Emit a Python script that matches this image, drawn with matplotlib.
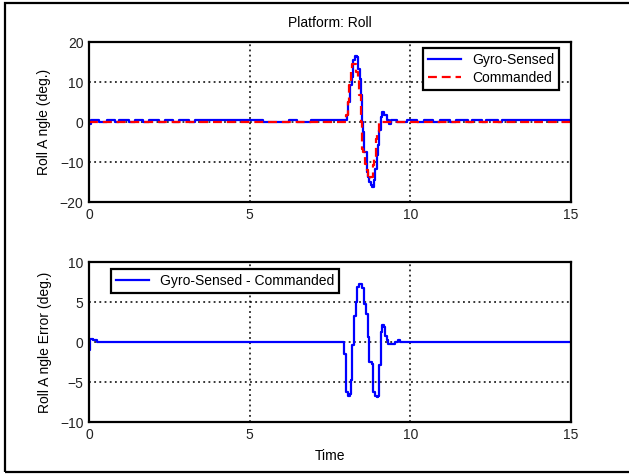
import numpy as np
import matplotlib.pyplot as plt
from matplotlib.patches import Rectangle

# --- dados ---
# Ângulo de rolagem medido pelo giroscópio (degraus)
t_gyro = [0.0, 0.06, 0.31, 0.56, 0.81, 0.94, 1.25, 1.43, 1.68, 1.87, 2.18,
          2.37, 2.62, 2.81, 3.12, 3.30, 5.42, 6.23, 6.48, 6.92,
          8.02, 8.07, 8.12, 8.17, 8.23, 8.28, 8.35, 8.38, 8.43, 8.46, 8.51,
          8.54, 8.57, 8.64, 8.67, 8.72, 8.77, 8.82, 8.87, 8.90, 8.95, 9.00,
          9.04, 9.08, 9.13, 9.18, 9.26, 9.34, 9.41, 9.60, 9.91, 10.22,
          10.41, 10.72, 10.91, 11.22, 11.41, 11.78, 11.91, 12.22, 12.34,
          12.72, 12.84, 15.0]
v_gyro = [-0.6, 0.5, 0.1, 0.5, 0.1, 0.5, 0.1, 0.5, 0.1, 0.5, 0.1,
          0.5, 0.1, 0.5, 0.1, 0.5, 0.1, 0.5, 0.1, 0.5,
          1.7, 5.0, 9.2, 11.2, 15.4, 16.5, 16.2, 13.3, 10.8, 6.7, 0.0,
          -2.5, -7.5, -12.5, -13.8, -15.0, -15.8, -16.2, -14.6, -11.7, -8.3, -5.8,
          -2.1, 1.25, 2.5, 1.7, 0.4, -0.4, 0.5, 0.1, 0.5, 0.1,
          0.5, 0.1, 0.5, 0.1, 0.5, 0.1, 0.5, 0.1, 0.5,
          0.1, 0.5, 0.5]

# Ângulo comandado
t_cmd = [0.0, 8.00, 8.05, 8.09, 8.14, 8.19, 8.25, 8.31, 8.36, 8.40, 8.45,
         8.49, 8.54, 8.59, 8.64, 8.69, 8.75, 8.83, 8.88, 8.92, 8.96, 9.03, 15.0]
v_cmd = [-0.1, 1.75, 5.0, 9.2, 12.5, 14.6, 14.6, 12.5, 10.4, 6.7, 0.0,
         -6.7, -7.5, -10.4, -12.0, -14.2, -13.8, -10.8, -9.2, -4.2, -2.5, -0.1, -0.1]

# Erro (giroscópio - comandado)
t_err = [0.0, 0.02, 0.12, 0.25, 7.95, 8.00, 8.07, 8.12, 8.15, 8.195, 8.26,
         8.30, 8.35, 8.40, 8.465, 8.51, 8.57, 8.62, 8.67, 8.72, 8.80, 8.85,
         8.90, 8.95, 9.00, 9.036, 9.077, 9.13, 9.18, 9.21, 9.26, 9.32, 9.42,
         9.52, 9.63, 9.68, 15.0]
v_err = [-1.0, 0.4, 0.2, 0.0, -1.5, -6.25, -6.7, -6.5, -4.8, -0.4, 3.3,
         5.0, 6.9, 7.2, 7.3, 6.7, 4.8, 3.5, 0.6, -2.5, -2.7, -6.25,
         -6.7, -6.9, -6.7, -2.9, 1.25, 2.1, 1.9, 0.8, 0.2, -0.3, -0.2,
         0.0, 0.2, 0.0, 0.0]

x_ticks = [0, 5, 10, 15]
y_ticks_top = [-20, -10, 0, 10, 20]
y_ticks_bot = [-10, -5, 0, 5, 10]
# ------------------------------

plt.rcParams['font.family'] = ['Liberation Sans', 'DejaVu Sans']
plt.rcParams['font.size'] = 10

W, H = 629, 474
fig = plt.figure(figsize=(W / 100, H / 100), dpi=100)

ax1 = fig.add_axes([89 / W, 1 - 202 / H, 482 / W, 160 / H])
ax2 = fig.add_axes([89 / W, 1 - 422 / H, 482 / W, 160 / H])

grade = dict(color='black', linestyle=(0, (1.2, 2.2)), linewidth=1.1)

def estilo(ax, yticks):
    ax.set_xlim(0, 15)
    ax.set_ylim(yticks[0], yticks[-1])
    ax.set_xticks(x_ticks)
    ax.set_yticks(yticks)
    ax.grid(True, **grade)
    ax.set_axisbelow(True)
    for s in ax.spines.values():
        s.set_linewidth(1.6)
    ax.tick_params(direction='in', length=0, labelsize=10, pad=4,
                   labelcolor='#222222')

ax1.step(t_gyro, v_gyro, where='post', color='#0000ff', lw=1.6, label='Gyro-Sensed')
ax1.step(t_cmd, v_cmd, where='post', color='#ff0000', lw=1.6,
         linestyle=(0, (4, 2.2)), label='Commanded')
estilo(ax1, y_ticks_top)
ax1.set_title('Platform: Roll', fontsize=10, pad=11)
ax1.set_ylabel('Roll A ngle (deg.)', labelpad=6)
leg1 = ax1.legend(loc='upper right', bbox_to_anchor=(0.975, 0.9625),
                  borderaxespad=0, fancybox=False, framealpha=1,
                  handlelength=2.4, borderpad=0.35, labelspacing=0.3)
leg1.get_frame().set_edgecolor('black')
leg1.get_frame().set_linewidth(1.6)

ax2.step(t_err, v_err, where='post', color='#0000ff', lw=1.6,
         label='Gyro-Sensed - Commanded')
estilo(ax2, y_ticks_bot)
ax2.set_xlabel('Time', labelpad=5)
ax2.set_ylabel('Roll A ngle Error (deg.)', labelpad=6)
leg2 = ax2.legend(loc='upper left', bbox_to_anchor=(0.0456, 0.956),
                  borderaxespad=0, fancybox=False, framealpha=1,
                  handlelength=2.4, borderpad=0.35)
leg2.get_frame().set_edgecolor('black')
leg2.get_frame().set_linewidth(1.6)

# moldura da figura
fig.add_artist(Rectangle((5 / W, 2 / H), 1.0, 469 / H, transform=fig.transFigure,
                         fill=False, edgecolor='black', linewidth=1.6))

plt.savefig('out.png', dpi=100)
plt.close()
